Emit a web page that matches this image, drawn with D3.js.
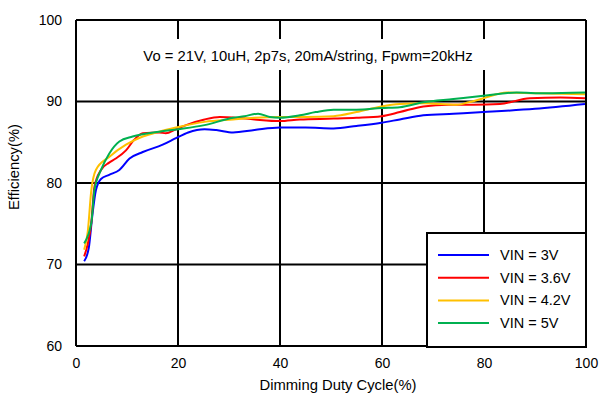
<!DOCTYPE html>
<html><head><meta charset="utf-8">
<script src="https://cdn.jsdelivr.net/npm/d3@7/dist/d3.min.js"></script>
<style>body{margin:0;background:#fff}svg{display:block}text{font-family:"Liberation Sans",Arial,sans-serif;fill:#000}</style>
</head><body><svg id="c" width="604" height="404"></svg>
<script>
const seriesNames = ["VIN = 3V","VIN = 3.6V","VIN = 4.2V","VIN = 5V"];
const seriesColors = ["#0000ff","#ff0000","#ffc000","#00b050"];
const vin3 = [[1.6,70.4],[2.5,72],[3.2,76],[3.9,79.1],[4.9,80.5],[6.5,81],[8.5,81.6],[10.5,83.0],[13.1,83.8],[17,84.7],[19.6,85.5],[22,86.2],[25.2,86.6],[27.5,86.5],[30.8,86.2],[35,86.5],[40,86.8],[45,86.8],[50.5,86.7],[55,87],[59.9,87.4],[63.5,87.8],[68.1,88.3],[74,88.5],[79.9,88.7],[90,89.1],[99.8,89.7]];
const vin36 = [[1.6,71.0],[2.3,72.5],[3.0,75.1],[3.6,79.5],[4.9,81.6],[6.5,82.5],[7.8,83.0],[9.8,84.0],[11.4,85.3],[13.1,86.1],[16.3,86.2],[17.6,86.1],[19.6,86.6],[22,87.2],[25.2,87.8],[28.2,88.1],[30.8,88.05],[35,87.8],[40,87.6],[43.9,87.8],[50.5,87.9],[55,88.0],[59.9,88.2],[63.5,88.7],[68.1,89.4],[73,89.6],[77.9,89.6],[83.1,89.7],[89,90.4],[95,90.5],[99.8,90.4]];
const vin42 = [[1.6,71.8],[2.3,74],[3.0,79.1],[3.9,81.6],[6.5,83.2],[9.8,84.7],[13.1,85.7],[16.3,86.3],[19.6,86.8],[25.2,87.5],[30.8,87.8],[35,88],[40,88.1],[45,88.1],[50.5,88.2],[55,88.7],[59.9,89.4],[63.5,89.7],[68.1,89.8],[74.6,89.6],[77,89.9],[79.9,90.4],[84.5,91.1],[90,91.0],[99.8,90.9]];
const vin5 = [[1.6,72.6],[3.0,75.1],[3.6,79.1],[4.9,81.6],[6.5,83.6],[8.5,85.1],[11.1,85.7],[16.3,86.3],[20,86.6],[25.2,87.1],[30.8,88.0],[33,88.2],[35.7,88.5],[38,88.1],[40,88.0],[43.9,88.3],[47,88.7],[50.5,89.0],[55,89.0],[59.9,89.2],[63.5,89.3],[68.1,89.9],[74,90.3],[79.9,90.7],[86.4,91.1],[92,91.0],[99.8,91.1]];
const xTicks = [0,20,40,60,80,100];
const yTicks = [60,70,80,90,100];
const titleText = "Vo = 21V, 10uH, 2p7s, 20mA/string, Fpwm=20kHz";
const xLabel = "Dimming Duty Cycle(%)";
const yLabel = "Efficiency(%)";

const allSeries = [vin3, vin36, vin42, vin5];
const L=76, T=20, W=510, H=326;
const svg = d3.select("#c");
const g = svg.append("g").attr("transform",`translate(${L},${T})`);
const x = d3.scaleLinear().domain([0,100]).range([0,W]);
const y = d3.scaleLinear().domain([60,100]).range([H,0]);

// grid
g.selectAll(".hg").data(yTicks).enter().append("line")
 .attr("x1",0).attr("x2",W).attr("y1",d=>y(d)).attr("y2",d=>y(d))
 .attr("stroke","#000").attr("stroke-width",2);
g.selectAll(".vg").data(xTicks).enter().append("line")
 .attr("y1",0).attr("y2",H).attr("x1",d=>x(d)).attr("x2",d=>x(d))
 .attr("stroke","#000").attr("stroke-width",2);

// axes labels
const xa = g.append("g").attr("transform",`translate(0,${H})`)
 .call(d3.axisBottom(x).tickValues(xTicks).tickSize(0).tickPadding(12));
xa.select(".domain").remove();
xa.selectAll("text").style("font-size","14px").attr("fill","#000");
const ya = g.append("g").call(d3.axisLeft(y).tickValues(yTicks).tickSize(0).tickPadding(14));
ya.select(".domain").remove();
ya.selectAll("text").style("font-size","14px").attr("fill","#000");

// title with white backing box
svg.append("rect").attr("x",136).attr("y",39).attr("width",354).attr("height",31).attr("fill","#fff");
svg.append("text").attr("x",308).attr("y",61).attr("text-anchor","middle").style("font-size","14.8px").text(titleText);
svg.append("text").attr("x",338).attr("y",390).attr("text-anchor","middle").style("font-size","14.8px").text(xLabel);
svg.append("text").attr("transform","translate(19,167) rotate(-90)").attr("text-anchor","middle").style("font-size","14.8px").text(yLabel);

// lines
const line = d3.line().x(d=>x(d[0])).y(d=>y(d[1])).curve(d3.curveMonotoneX);
allSeries.forEach((s,i)=>{
  g.append("path").datum(s).attr("d",line).attr("fill","none")
   .attr("stroke",seriesColors[i]).attr("stroke-width",2);
});

// legend
const lg = svg.append("g");
lg.append("rect").attr("x",427).attr("y",233).attr("width",159).attr("height",114)
 .attr("fill","#fff").attr("stroke","#000").attr("stroke-width",2);
seriesNames.forEach((n,i)=>{
  const yy = 255 + i*22.7;
  lg.append("line").attr("x1",438).attr("x2",489).attr("y1",yy).attr("y2",yy)
   .attr("stroke",seriesColors[i]).attr("stroke-width",2);
  lg.append("text").attr("x",500).attr("y",yy+5).style("font-size","14.5px").text(n);
});
</script></body></html>
